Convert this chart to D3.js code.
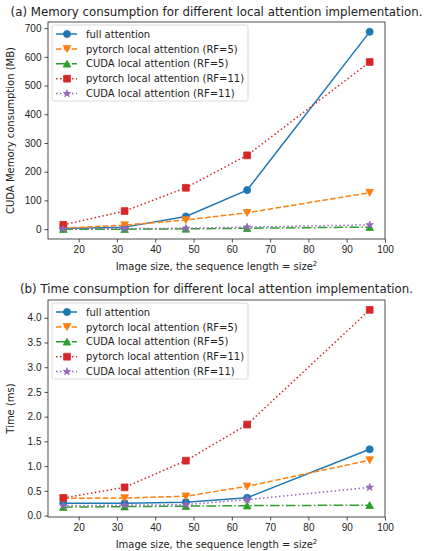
<!DOCTYPE html>
<html>
<head>
<meta charset="utf-8">
<script src="https://cdn.jsdelivr.net/npm/d3@7"></script>
<style>
  body { margin: 0; background: #fff; }
  svg { display: block; font-family: "DejaVu Sans", sans-serif; }
  .tick text { font-size: 10px; fill: #222; }
</style>
</head>
<body>
<svg id="chart" width="427" height="551"></svg>
<script>
// image sizes (x values)
const sizes = [16, 32, 48, 64, 96];
const xTicks = [20, 30, 40, 50, 60, 70, 80, 90, 100];

const seriesNames = [
    'full attention',
    'pytorch local attention (RF=5)',
    'CUDA local attention (RF=5)',
    'pytorch local attention (RF=11)',
    'CUDA local attention (RF=11)'
];

// memory consumption (MB)
const memFull = [2, 7, 44, 136, 687];
const memTorch5 = [3, 14, 32, 57, 127];
const memCuda5 = [0, 0, 1, 3, 7];
const memTorch11 = [15, 63, 144, 257, 582];
const memCuda11 = [1, 2, 3, 7, 15];
const memTicks = [0, 100, 200, 300, 400, 500, 600, 700];

// time consumption (ms)
const timeFull = [0.25, 0.25, 0.27, 0.36, 1.34];
const timeTorch5 = [0.35, 0.355, 0.39, 0.59, 1.12];
const timeCuda5 = [0.17, 0.18, 0.19, 0.20, 0.21];
const timeTorch11 = [0.355, 0.57, 1.11, 1.84, 4.16];
const timeCuda11 = [0.2, 0.21, 0.22, 0.32, 0.57];
const timeTicks = [0.0, 0.5, 1.0, 1.5, 2.0, 2.5, 3.0, 3.5, 4.0];

const colors = ['#1f77b4', '#ff7f0e', '#2ca02c', '#d62728', '#9467bd'];
const dashes = [null, '5.5,2.4', '9.6,2.4,1.5,2.4', '1.5,2.5', '1.5,2.5'];
const symbols = [d3.symbolCircle, 'tri-down', 'tri-up', d3.symbolSquare, 'star'];

const svg = d3.select('#chart');

function markerPath(kind) {
    if (kind === 'tri-down') return 'M-3.8,-3.3L3.8,-3.3L0,3.6Z';
    if (kind === 'tri-up') return 'M-3.8,3.3L3.8,3.3L0,-3.6Z';
    if (kind === 'star') return d3.symbol(d3.symbolStar, 17)();
    if (kind === d3.symbolSquare) return d3.symbol(kind, 46)();
    return d3.symbol(kind, 40)();
}

function drawPanel(opts) {
    const { top, bottom, title, titleY, yLabel, series, yTicks, yFormat } = opts;
    const left = 48, right = 385;

    const x = d3.scaleLinear().domain([12, 100]).range([left, right]);
    const all = series.flat();
    const lo = d3.min(all), hi = d3.max(all), pad = (hi - lo) * 0.05;
    const y = d3.scaleLinear().domain([lo - pad, hi + pad]).range([bottom, top]);

    const g = svg.append('g');

    // axes
    g.append('g')
        .attr('transform', `translate(0,${bottom})`)
        .call(d3.axisBottom(x).tickValues(xTicks).tickSize(3.5).tickPadding(3).tickFormat(d3.format('d')))
        .call(a => a.select('.domain').remove());

    g.append('g')
        .attr('transform', `translate(${left},0)`)
        .call(d3.axisLeft(y).tickValues(yTicks).tickSize(3.5).tickPadding(3).tickFormat(yFormat))
        .call(a => a.select('.domain').remove());

    g.selectAll('.tick line').attr('stroke', '#222').attr('stroke-width', 0.8);

    // lines and markers
    const line = d3.line().x((d, i) => x(sizes[i])).y(d => y(d));
    series.forEach((vals, k) => {
        g.append('path')
            .datum(vals)
            .attr('fill', 'none')
            .attr('stroke', colors[k])
            .attr('stroke-width', 1.5)
            .attr('stroke-dasharray', dashes[k])
            .attr('d', line);
        g.selectAll(null)
            .data(vals)
            .enter().append('path')
            .attr('transform', (d, i) => `translate(${x(sizes[i])},${y(d)})`)
            .attr('d', markerPath(symbols[k]))
            .attr('fill', colors[k])
            .attr('stroke', colors[k])
            .attr('stroke-width', 0.8);
    });

    // frame
    g.append('rect')
        .attr('x', left).attr('y', top)
        .attr('width', right - left).attr('height', bottom - top)
        .attr('fill', 'none').attr('stroke', '#222').attr('stroke-width', 0.8);

    // legend
    const lg = g.append('g').attr('transform', `translate(52,${top + 3})`);
    lg.append('rect')
        .attr('width', 196).attr('height', 76).attr('rx', 2)
        .attr('fill', 'rgba(255,255,255,0.8)').attr('stroke', '#d0d0d0').attr('stroke-width', 0.8);
    seriesNames.forEach((name, k) => {
        const ry = 9 + k * 14.9;
        lg.append('line')
            .attr('x1', 4).attr('x2', 25).attr('y1', ry).attr('y2', ry)
            .attr('stroke', colors[k]).attr('stroke-width', 1.5)
            .attr('stroke-dasharray', dashes[k]);
        lg.append('path')
            .attr('transform', `translate(15,${ry})`)
            .attr('d', markerPath(symbols[k]))
            .attr('fill', colors[k]).attr('stroke', colors[k]).attr('stroke-width', 0.8);
        lg.append('text')
            .attr('x', 34).attr('y', ry + 3.6)
            .attr('font-size', 10).attr('fill', '#222')
            .text(name);
    });

    // title
    svg.append('text')
        .attr('x', (left + right) / 2).attr('y', titleY)
        .attr('text-anchor', 'middle').attr('font-size', 11.8).attr('fill', '#222')
        .text(title);

    // x label
    const xl = svg.append('text')
        .attr('x', (left + right) / 2).attr('y', bottom + 31)
        .attr('text-anchor', 'middle').attr('font-size', 10).attr('fill', '#222');
    xl.append('tspan').text('Image size, the sequence length = size');
    xl.append('tspan').attr('font-size', 7).attr('dy', -4).text('2');

    // y label
    svg.append('text')
        .attr('transform', `translate(14,${(top + bottom) / 2}) rotate(-90)`)
        .attr('text-anchor', 'middle').attr('font-size', 10).attr('fill', '#222')
        .text(yLabel);
}

drawPanel({
    top: 22, bottom: 239, titleY: 16,
    title: '(a) Memory consumption for different local attention implementation.',
    yLabel: 'CUDA Memory consumption (MB)',
    series: [memFull, memTorch5, memCuda5, memTorch11, memCuda11],
    yTicks: memTicks, yFormat: d3.format('d')
});

drawPanel({
    top: 300, bottom: 517, titleY: 293,
    title: '(b) Time consumption for different local attention implementation.',
    yLabel: 'Time (ms)',
    series: [timeFull, timeTorch5, timeCuda5, timeTorch11, timeCuda11],
    yTicks: timeTicks, yFormat: d3.format('.1f')
});
</script>
</body>
</html>
